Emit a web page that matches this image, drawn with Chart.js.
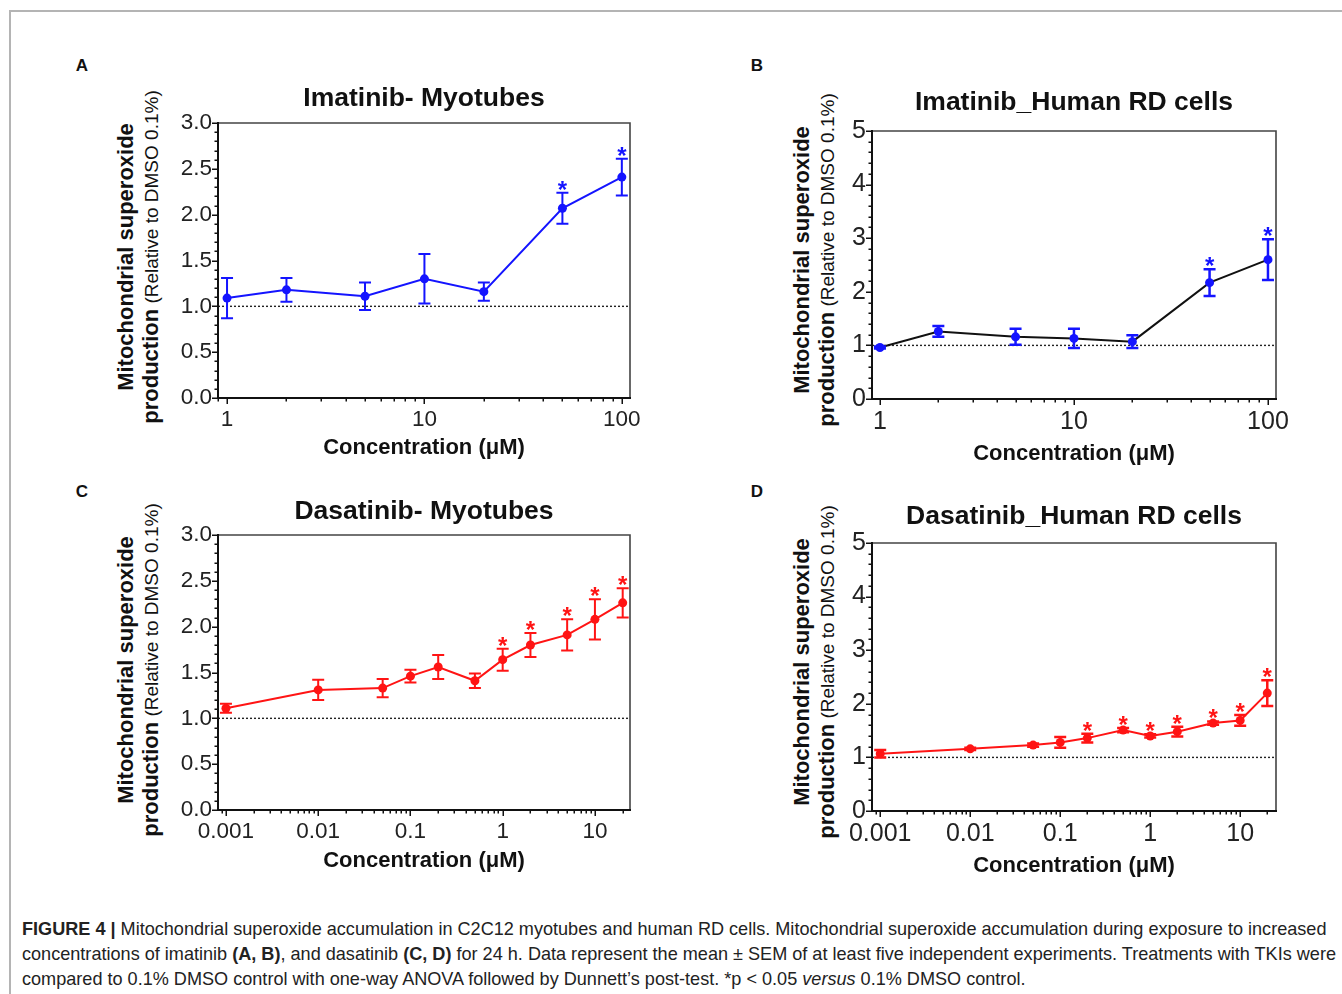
<!DOCTYPE html>
<html lang="en">
<head>
  <meta charset="UTF-8">
  <title>Figure 4 - Mitochondrial superoxide</title>
  <script src="https://cdn.jsdelivr.net/npm/chart.js"></script>
  <style>
    body {
      margin: 0;
      background: #fff;
      font-family: 'Liberation Sans', Arial, sans-serif;
      width: 1342px;
      height: 994px;
      overflow: hidden;
      position: relative;
    }

    .frame {
      position: absolute;
      left: 9px;
      top: 10px;
      right: -5px;
      bottom: -5px;
      border-top: 2px solid #b4b4b4;
      border-left: 2px solid #b4b4b4;
    }

    .letter {
      position: absolute;
      font-weight: bold;
      font-size: 17px;
      color: #111;
      transform: translate(-50%, -50%);
    }

    canvas {
      position: absolute;
    }

    .ytitle {
      position: absolute;
      transform: translate(-50%, -50%) rotate(-90deg);
      white-space: nowrap;
      text-align: center;
      color: #111;
      line-height: 25px;
    }
    .ytitle .l1 { font-weight: bold; font-size: 22px; }
    .ytitle .l2 { font-size: 19px; }
    .ytitle .l2 b { font-size: 22px; }

    .caption {
      position: absolute;
      left: 22px;
      top: 917px;
      margin: 0;
      font-size: 18.1px;
      line-height: 25px;
      color: #222;
      white-space: nowrap;
    }
  </style>
</head>
<body>

  <div class="frame"></div>

  <!-- panel letters -->
  <div class="letter" style="left:82px; top:66px;">A</div>
  <div class="letter" style="left:757px; top:66px;">B</div>
  <div class="letter" style="left:82px; top:492px;">C</div>
  <div class="letter" style="left:757px; top:492px;">D</div>

  <!-- y axis titles (mixed weight, so plain html) -->
  <div class="ytitle" style="left:137.5px; top:257px;">
    <div class="l1">Mitochondrial superoxide</div>
    <div class="l2"><b>production</b> (Relative to DMSO 0.1%)</div>
  </div>
  <div class="ytitle" style="left:813.5px; top:260px;">
    <div class="l1">Mitochondrial superoxide</div>
    <div class="l2"><b>production</b> (Relative to DMSO 0.1%)</div>
  </div>
  <div class="ytitle" style="left:137.5px; top:670px;">
    <div class="l1">Mitochondrial superoxide</div>
    <div class="l2"><b>production</b> (Relative to DMSO 0.1%)</div>
  </div>
  <div class="ytitle" style="left:813.5px; top:672px;">
    <div class="l1">Mitochondrial superoxide</div>
    <div class="l2"><b>production</b> (Relative to DMSO 0.1%)</div>
  </div>

  <canvas id="chartA"></canvas>
  <canvas id="chartB"></canvas>
  <canvas id="chartC"></canvas>
  <canvas id="chartD"></canvas>

  <p class="caption"><b>FIGURE 4 |</b> Mitochondrial superoxide accumulation in C2C12 myotubes and human RD cells. Mitochondrial superoxide accumulation during exposure to increased<br>concentrations of imatinib <b>(A, B)</b>, and dasatinib <b>(C, D)</b> for 24 h. Data represent the mean ± SEM of at least five independent experiments. Treatments with TKIs were<br>compared to 0.1% DMSO control with one-way ANOVA followed by Dunnett’s post-test. *p &lt; 0.05 <i>versus</i> 0.1% DMSO control.</p>

  <script>
    // ---- data ----
    const imatinibConc = [1, 2, 5, 10, 20, 50, 100];
    const dasatinibConc = [0.001, 0.01, 0.05, 0.1, 0.2, 0.5, 1, 2, 5, 10, 20];

    const imaMyoMean = [1.09, 1.18, 1.11, 1.30, 1.16, 2.07, 2.41];
    const imaMyoSem  = [0.22, 0.13, 0.15, 0.27, 0.10, 0.17, 0.20];
    const imaMyoSig  = [0, 0, 0, 0, 0, 1, 1];

    const imaRdMean = [0.96, 1.26, 1.16, 1.13, 1.07, 2.17, 2.60];
    const imaRdSem  = [0.02, 0.10, 0.15, 0.18, 0.12, 0.25, 0.38];
    const imaRdSig  = [0, 0, 0, 0, 0, 1, 1];

    const dasMyoMean = [1.11, 1.31, 1.33, 1.46, 1.56, 1.41, 1.64, 1.80, 1.91, 2.08, 2.26];
    const dasMyoSem  = [0.05, 0.11, 0.10, 0.07, 0.13, 0.08, 0.12, 0.13, 0.17, 0.22, 0.16];
    const dasMyoSig  = [0, 0, 0, 0, 0, 0, 1, 1, 1, 1, 1];

    const dasRdMean = [1.07, 1.16, 1.23, 1.28, 1.36, 1.51, 1.40, 1.48, 1.64, 1.69, 2.20];
    const dasRdSem  = [0.07, 0.02, 0.03, 0.10, 0.08, 0.04, 0.03, 0.09, 0.03, 0.10, 0.24];
    const dasRdSig  = [0, 0, 0, 0, 1, 1, 1, 1, 1, 1, 1];

    const imaXTicks  = [1, 10, 100];
    const imaXLabels = ['1', '10', '100'];
    const dasXTicks  = [0.001, 0.01, 0.1, 1, 10];
    const dasXLabels = ['0.001', '0.01', '0.1', '1', '10'];
    const myoYTicks  = [0, 0.5, 1, 1.5, 2, 2.5, 3];
    const myoYLabels = ['0.0', '0.5', '1.0', '1.5', '2.0', '2.5', '3.0'];
    const rdYTicks   = [0, 1, 2, 3, 4, 5];
    const rdYLabels  = ['0', '1', '2', '3', '4', '5'];
    const refLevel = 1;   // 0.1% DMSO control

    const BLUE = '#1414ff';
    const RED = '#ff1414';
    const FONT = "'Liberation Sans', Arial, sans-serif";

    // major + minor ticks for a log axis
    function logTicks(majors, min, max) {
      const list = [];
      let dec = Math.pow(10, Math.floor(Math.log10(min)));
      while (dec <= max) {
        for (let m = 1; m <= 9; m++) {
          const v = +(m * dec).toPrecision(6);
          if (v >= min && v <= max) list.push({ value: v, major: majors.includes(v) });
        }
        dec *= 10;
      }
      return list;
    }

    function linTicks(majors, max, step) {
      const list = [];
      for (let i = 0; i * step <= max + 1e-9; i++) {
        const v = +(i * step).toFixed(4);
        list.push({ value: v, major: majors.includes(v) });
      }
      return list;
    }

    function labelFor(vals, labs, v) {
      const k = vals.indexOf(v);
      return k < 0 ? '' : labs[k];
    }

    // error bars, asterisks and the axis box
    function makeDecor(d) {
      return {
        id: 'decor',
        afterDatasetsDraw(chart) {
          const { ctx, chartArea: a, scales: { x, y } } = chart;
          ctx.save();

          ctx.strokeStyle = d.color;
          ctx.fillStyle = d.color;
          ctx.lineWidth = d.barWidth;
          ctx.font = 'bold 24px ' + FONT;
          ctx.textAlign = 'center';
          ctx.textBaseline = 'alphabetic';
          d.conc.forEach((c, i) => {
            const px = x.getPixelForValue(c);
            const top = y.getPixelForValue(d.mean[i] + d.sem[i]);
            const bot = y.getPixelForValue(d.mean[i] - d.sem[i]);
            ctx.beginPath();
            ctx.moveTo(px, top); ctx.lineTo(px, bot);
            ctx.moveTo(px - 6, top); ctx.lineTo(px + 6, top);
            ctx.moveTo(px - 6, bot); ctx.lineTo(px + 6, bot);
            ctx.stroke();
            if (d.sig[i]) ctx.fillText('*', px, top + 5);
          });

          // frame: left/bottom heavy, top/right lighter
          ctx.lineCap = 'square';
          ctx.strokeStyle = '#444';
          ctx.lineWidth = 1.6;
          ctx.beginPath();
          ctx.moveTo(a.left, a.top); ctx.lineTo(a.right, a.top); ctx.lineTo(a.right, a.bottom);
          ctx.stroke();
          ctx.strokeStyle = '#111';
          ctx.lineWidth = 2;
          ctx.beginPath();
          ctx.moveTo(a.left, a.top); ctx.lineTo(a.left, a.bottom); ctx.lineTo(a.right, a.bottom);
          ctx.stroke();

          ctx.lineCap = 'butt';
          ctx.lineWidth = 1.5;
          ctx.beginPath();
          y.ticks.forEach(t => {
            const py = Math.round(y.getPixelForValue(t.value)) + 0.25;
            ctx.moveTo(a.left, py); ctx.lineTo(a.left - (t.major ? 6 : 3.5), py);
          });
          x.ticks.forEach(t => {
            const px = Math.round(x.getPixelForValue(t.value)) + 0.25;
            ctx.moveTo(px, a.bottom); ctx.lineTo(px, a.bottom + (t.major ? 6 : 3.5));
          });
          ctx.stroke();
          ctx.restore();
        }
      };
    }

    function makePanel(id, geo, d) {
      const canvas = document.getElementById(id);
      const yW = 58, padR = 30, titleH = 50, xH = 70;
      const W = geo.right - geo.left + yW + padR;
      const H = titleH + (geo.bottom - geo.top) + xH;
      canvas.width = W;
      canvas.height = H;
      canvas.style.left = (geo.left - yW) + 'px';
      canvas.style.top = (geo.top - titleH) + 'px';

      const tLine = 26.5 * 1.2;
      const tCenter = geo.titleY - (geo.top - titleH);
      const tPadTop = tCenter - tLine / 2;
      const tPadBottom = titleH - tLine - tPadTop;
      const xtPad = xH - 22 * 1.2 / 2 - (geo.xTitleY - geo.bottom);

      const xList = logTicks(d.xTicks, d.xMin, d.xMax);
      const yList = linTicks(d.yTicks, d.yMax, d.yMinor);

      return new Chart(canvas, {
        type: 'line',
        data: {
          datasets: [
            {
              data: d.conc.map((c, i) => ({ x: c, y: d.mean[i] })),
              borderColor: d.lineColor,
              borderWidth: 2,
              pointRadius: d.pointRadius,
              pointBackgroundColor: d.color,
              pointBorderColor: d.color,
              pointBorderWidth: 0,
              order: 1
            },
            {
              data: [{ x: d.xMin, y: refLevel }, { x: d.xMax, y: refLevel }],
              borderColor: '#222',
              borderWidth: 1.4,
              borderDash: [2, 2],
              pointRadius: 0,
              order: 2
            }
          ]
        },
        options: {
          responsive: false,
          animation: false,
          layout: { padding: { left: 0, right: padR, top: 0, bottom: 0 } },
          plugins: {
            legend: { display: false },
            tooltip: { enabled: false },
            title: {
              display: true,
              text: d.title,
              fullSize: false,
              color: '#111',
              font: { family: FONT, size: 26.5, weight: 'bold' },
              padding: { top: tPadTop, bottom: tPadBottom }
            }
          },
          scales: {
            x: {
              type: 'logarithmic',
              min: d.xMin,
              max: d.xMax,
              bounds: 'data',
              afterBuildTicks: s => { s.ticks = xList; },
              afterFit: s => { s.height = xH; },
              grid: { display: false, drawTicks: true, tickLength: 6 },
              border: { display: false },
              ticks: {
                autoSkip: false, maxRotation: 0, minRotation: 0, padding: 2,
                color: '#222',
                font: { family: FONT, size: d.tickSize },
                callback: v => labelFor(d.xTicks, d.xLabels, v)
              },
              title: {
                display: true,
                text: 'Concentration (μM)',
                color: '#111',
                font: { family: FONT, size: 22, weight: 'bold' },
                padding: { top: 0, bottom: xtPad }
              }
            },
            y: {
              min: 0,
              max: d.yMax,
              afterBuildTicks: s => { s.ticks = yList; },
              afterFit: s => { s.width = yW; },
              grid: { display: false, drawTicks: true, tickLength: 6 },
              border: { display: false },
              ticks: {
                autoSkip: false, padding: 0,
                color: '#222',
                font: { family: FONT, size: d.tickSize },
                callback: v => labelFor(d.yTicks, d.yLabels, v)
              }
            }
          }
        },
        plugins: [makeDecor(d)]
      });
    }

    makePanel('chartA',
      { left: 218, right: 630, top: 123, bottom: 398, titleY: 99, xTitleY: 448 },
      { title: 'Imatinib- Myotubes', conc: imatinibConc, mean: imaMyoMean, sem: imaMyoSem, sig: imaMyoSig,
        color: BLUE, lineColor: BLUE, pointRadius: 4.5, barWidth: 2,
        xMin: 0.9, xMax: 110, xTicks: imaXTicks, xLabels: imaXLabels,
        yMax: 3, yMinor: 0.1, yTicks: myoYTicks, yLabels: myoYLabels, tickSize: 22.5 });

    makePanel('chartB',
      { left: 872, right: 1276, top: 131, bottom: 399, titleY: 103, xTitleY: 454 },
      { title: 'Imatinib_Human RD cells', conc: imatinibConc, mean: imaRdMean, sem: imaRdSem, sig: imaRdSig,
        color: BLUE, lineColor: '#111', pointRadius: 4.5, barWidth: 2.5,
        xMin: 0.91, xMax: 110, xTicks: imaXTicks, xLabels: imaXLabels,
        yMax: 5, yMinor: 0.2, yTicks: rdYTicks, yLabels: rdYLabels, tickSize: 25 });

    makePanel('chartC',
      { left: 218, right: 630, top: 535, bottom: 810, titleY: 512, xTitleY: 861 },
      { title: 'Dasatinib- Myotubes', conc: dasatinibConc, mean: dasMyoMean, sem: dasMyoSem, sig: dasMyoSig,
        color: RED, lineColor: RED, pointRadius: 4.5, barWidth: 2,
        xMin: 0.00082, xMax: 24, xTicks: dasXTicks, xLabels: dasXLabels,
        yMax: 3, yMinor: 0.1, yTicks: myoYTicks, yLabels: myoYLabels, tickSize: 22.5 });

    makePanel('chartD',
      { left: 872, right: 1276, top: 543, bottom: 811, titleY: 517, xTitleY: 866 },
      { title: 'Dasatinib_Human RD cells', conc: dasatinibConc, mean: dasRdMean, sem: dasRdSem, sig: dasRdSig,
        color: RED, lineColor: RED, pointRadius: 4.5, barWidth: 2.5,
        xMin: 0.00081, xMax: 25, xTicks: dasXTicks, xLabels: dasXLabels,
        yMax: 5, yMinor: 0.2, yTicks: rdYTicks, yLabels: rdYLabels, tickSize: 25 });
  </script>

</body>
</html>
